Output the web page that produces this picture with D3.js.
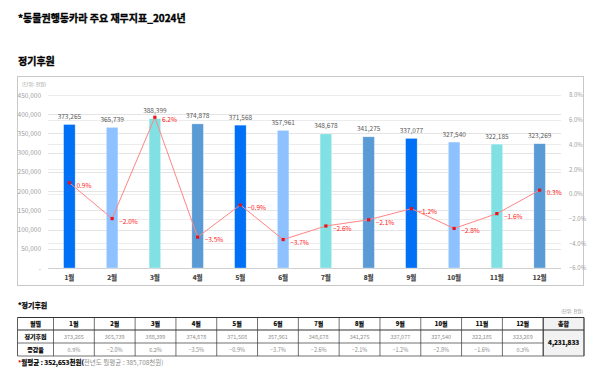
<!DOCTYPE html>
<html>
<head>
<meta charset="utf-8">
<script src="https://cdn.jsdelivr.net/npm/d3@7"></script>
<style>
  body { margin: 0; background: #fff; }
  text { font-family: "Noto Sans CJK KR", "Noto Sans", sans-serif; }
</style>
</head>
<body>
<div id="chart"></div>
<script>
// chart data
const months = ["1월", "2월", "3월", "4월", "5월", "6월", "7월", "8월", "9월", "10월", "11월", "12월"];
const donations = [373265, 365739, 388399, 374878, 371568, 357961, 348678, 341275, 337077, 327540, 322185, 323269];
const changes = [0.9, -2.0, 6.2, -3.5, -0.9, -3.7, -2.6, -2.1, -1.2, -2.8, -1.6, 0.3];
const leftTicks = [0, 50000, 100000, 150000, 200000, 250000, 300000, 350000, 400000, 450000];
const rightTicks = [-6, -4, -2, 0, 2, 4, 6, 8];
const totalText = "4,231,833";
const avgText = "352,653천원";
const prevAvgText = "385,708천원";

const width = 600;
const height = 374;
const plot = {left: 48, right: 561, top: 95, bottom: 268};
const barColors = ["#0070f6", "#8dc1ff", "#80e0e3", "#5b9bd5"];

const svg = d3.select("#chart")
  .append("svg")
  .attr("width", width)
  .attr("height", height);

// heavy text helper (the installed CJK bold is light next to the original)
const heavy = sel => sel.attr("font-weight", "bold").attr("stroke", "#000").attr("stroke-width", 0.35);

// titles
heavy(svg.append("text").attr("x", 18).attr("y", 22)
  .attr("font-size", "10px").attr("fill", "#000"))
  .text("*동물권행동카라 주요 재무지표_2024년");
heavy(svg.append("text").attr("x", 18).attr("y", 65)
  .attr("font-size", "10px").attr("fill", "#000"))
  .text("정기후원");

// chart box
svg.append("rect")
  .attr("x", 17.5).attr("y", 76.5).attr("width", 566).attr("height", 209)
  .attr("fill", "#fff").attr("stroke", "#c8c8c8");

svg.append("text").attr("x", 22).attr("y", 86)
  .attr("font-size", "5px").attr("fill", "#999")
  .text("(단위: 천원)");

// scales
const x = d3.scaleBand()
  .domain(months)
  .range([plot.left, plot.right])
  .paddingInner(0.73)
  .paddingOuter(0.365);

const y = d3.scaleLinear()
  .domain([0, 450000])
  .range([plot.bottom, plot.top]);

const y2 = d3.scaleLinear()
  .domain([-6, 8])
  .range([plot.bottom, plot.top]);

// gridlines for both axes
const grid = svg.append("g");
grid.selectAll(".gl")
  .data(leftTicks.slice(1))
  .join("line")
  .attr("x1", plot.left).attr("x2", plot.right)
  .attr("y1", d => Math.round(y(d)) + 0.5).attr("y2", d => Math.round(y(d)) + 0.5)
  .attr("stroke", "#e4e4e4");
grid.selectAll(".gr")
  .data(rightTicks)
  .join("line")
  .attr("x1", plot.left).attr("x2", plot.right)
  .attr("y1", d => Math.round(y2(d)) + 0.5).attr("y2", d => Math.round(y2(d)) + 0.5)
  .attr("stroke", "#ececec");

// left axis
const yAxis = svg.append("g")
  .attr("transform", `translate(${plot.left - 4},0)`)
  .call(d3.axisLeft(y).tickValues(leftTicks).tickSize(0)
    .tickFormat(d => d === 0 ? "-  " : d3.format(",")(d)));
yAxis.select(".domain").remove();
yAxis.selectAll("text").attr("font-size", "6.5px").attr("fill", "#a0a0a0");

// right axis
const y2Axis = svg.append("g")
  .attr("transform", `translate(${plot.right + 5},0)`)
  .call(d3.axisRight(y2).tickValues(rightTicks).tickSize(0)
    .tickFormat(d => d3.format(".1f")(d) + "%"));
y2Axis.select(".domain").remove();
y2Axis.selectAll("text").attr("font-size", "6px").attr("fill", "#a0a0a0");

// baseline
svg.append("line")
  .attr("x1", plot.left).attr("x2", plot.right)
  .attr("y1", plot.bottom + 0.5).attr("y2", plot.bottom + 0.5)
  .attr("stroke", "#d0d0d0");

// x axis labels
const xAxis = svg.append("g")
  .attr("transform", `translate(0,${plot.bottom + 4})`)
  .call(d3.axisBottom(x).tickSize(0));
xAxis.select(".domain").remove();
xAxis.selectAll("text").attr("font-size", "6.5px").attr("font-weight", "bold")
  .attr("fill", "#404040").attr("stroke", "#404040").attr("stroke-width", 0.2);

// bars
svg.selectAll(".bar")
  .data(donations)
  .join("rect")
  .attr("class", "bar")
  .attr("x", (d, i) => x(months[i]))
  .attr("y", d => y(d))
  .attr("width", x.bandwidth())
  .attr("height", d => plot.bottom - y(d))
  .attr("fill", (d, i) => barColors[i % 4])
  .attr("stroke", "#ffffff")
  .attr("stroke-opacity", 0.5)
  .attr("stroke-width", 0.6);

// bar value labels
svg.selectAll(".vlabel")
  .data(donations)
  .join("text")
  .attr("x", (d, i) => x(months[i]) + x.bandwidth() / 2)
  .attr("y", d => y(d) - 5.5)
  .attr("text-anchor", "middle")
  .attr("font-size", "6.5px")
  .attr("fill", "#595959")
  .text(d => d3.format(",")(d));

// change line
const cx = i => x(months[i]) + x.bandwidth() / 2;
const line = d3.line()
  .x((d, i) => cx(i))
  .y(d => y2(d));

svg.append("path")
  .datum(changes)
  .attr("d", line)
  .attr("fill", "none")
  .attr("stroke", "#ff8585")
  .attr("stroke-width", 1);

svg.selectAll(".pt")
  .data(changes)
  .join("rect")
  .attr("x", (d, i) => cx(i) - 1.6)
  .attr("y", d => y2(d) - 1.6)
  .attr("width", 3.2).attr("height", 3.2)
  .attr("fill", "#e8141c");

svg.selectAll(".plabel")
  .data(changes)
  .join("text")
  .attr("x", (d, i) => cx(i) + 7)
  .attr("y", d => y2(d) + 5)
  .attr("font-size", "6.5px")
  .attr("fill", "#ff2020")
  .text(d => d3.format(".1f")(d) + "%");

/* table */
heavy(svg.append("text").attr("x", 18).attr("y", 308)
  .attr("font-size", "7px").attr("fill", "#000"))
  .attr("stroke-width", 0.25)
  .text("*정기후원");
svg.append("text").attr("x", 583).attr("y", 313)
  .attr("text-anchor", "end")
  .attr("font-size", "4.5px").attr("fill", "#888")
  .text("(단위: 천원)");

const tLeft = 17.5;
const firstCol = 36;
const colW = (584 - tLeft - firstCol) / 13;
const rowsY = [317.5, 330, 343, 356];
const colX = i => tLeft + firstCol + colW * i;

const table = svg.append("g");

// total column fill
table.append("rect")
  .attr("x", colX(12)).attr("y", rowsY[0])
  .attr("width", colW).attr("height", rowsY[3] - rowsY[0])
  .attr("fill", "#f2f2f2");

// horizontal lines
rowsY.forEach((ry, r) => {
  table.append("line")
    .attr("x1", tLeft).attr("x2", r === 0 || r === 3 ? colX(13) : colX(12))
    .attr("y1", ry).attr("y2", ry)
    .attr("stroke", "#333").attr("stroke-width", r <= 1 ? 1 : 0.7);
});
table.append("line")
  .attr("x1", colX(12)).attr("x2", colX(13))
  .attr("y1", rowsY[1]).attr("y2", rowsY[1])
  .attr("stroke", "#333").attr("stroke-width", 1);

// vertical lines
d3.range(14).forEach(i => {
  table.append("line")
    .attr("x1", colX(i)).attr("x2", colX(i))
    .attr("y1", rowsY[0]).attr("y2", rowsY[3])
    .attr("stroke", "#333").attr("stroke-width", i >= 12 ? 1.2 : 0.7);
});
table.append("line")
  .attr("x1", tLeft).attr("x2", tLeft)
  .attr("y1", rowsY[0]).attr("y2", rowsY[3])
  .attr("stroke", "#333").attr("stroke-width", 0.8);

const rowMid = r => (rowsY[r] + rowsY[r + 1]) / 2 + 2;

// header row
const headers = ["월별"].concat(months, ["총합"]);
headers.forEach((h, i) => {
  const cxT = i === 0 ? tLeft + firstCol / 2 : colX(i - 1) + colW / 2;
  heavy(table.append("text")
    .attr("x", cxT).attr("y", rowMid(0))
    .attr("text-anchor", "middle")
    .attr("font-size", "6px").attr("fill", "#000"))
    .attr("stroke-width", 0.2)
    .text(h);
});

// row headers
["정기후원", "증감율"].forEach((h, r) => {
  heavy(table.append("text")
    .attr("x", tLeft + firstCol / 2).attr("y", rowMid(r + 1))
    .attr("text-anchor", "middle")
    .attr("font-size", "6px").attr("fill", "#000"))
    .attr("stroke-width", 0.2)
    .text(h);
});

donations.forEach((d, i) => {
  table.append("text")
    .attr("x", colX(i) + colW / 2).attr("y", rowMid(1))
    .attr("text-anchor", "middle")
    .attr("font-size", "5.5px").attr("fill", "#8c8c8c")
    .text(d3.format(",")(d));
});
changes.forEach((d, i) => {
  table.append("text")
    .attr("x", colX(i) + colW / 2).attr("y", rowMid(2))
    .attr("text-anchor", "middle")
    .attr("font-size", "5.5px").attr("fill", "#8c8c8c")
    .text(d3.format(".1f")(d) + "%");
});

heavy(table.append("text")
  .attr("x", colX(12) + colW / 2).attr("y", (rowsY[1] + rowsY[3]) / 2 + 2.2)
  .attr("text-anchor", "middle")
  .attr("font-size", "6.5px").attr("fill", "#000"))
  .attr("stroke-width", 0.2)
  .text(totalText);

// footer
const foot = svg.append("text").attr("x", 18).attr("y", 365).attr("font-size", "6.5px");
foot.append("tspan").attr("fill", "#e00000").attr("font-weight", "bold").text("*");
foot.append("tspan").attr("fill", "#000").attr("font-weight", "bold")
  .attr("stroke", "#000").attr("stroke-width", 0.2)
  .text("월평균 : " + avgText + "(");
foot.append("tspan").attr("fill", "#8c8c8c").text("전년도 월평균 : " + prevAvgText + ")");
</script>
</body>
</html>
